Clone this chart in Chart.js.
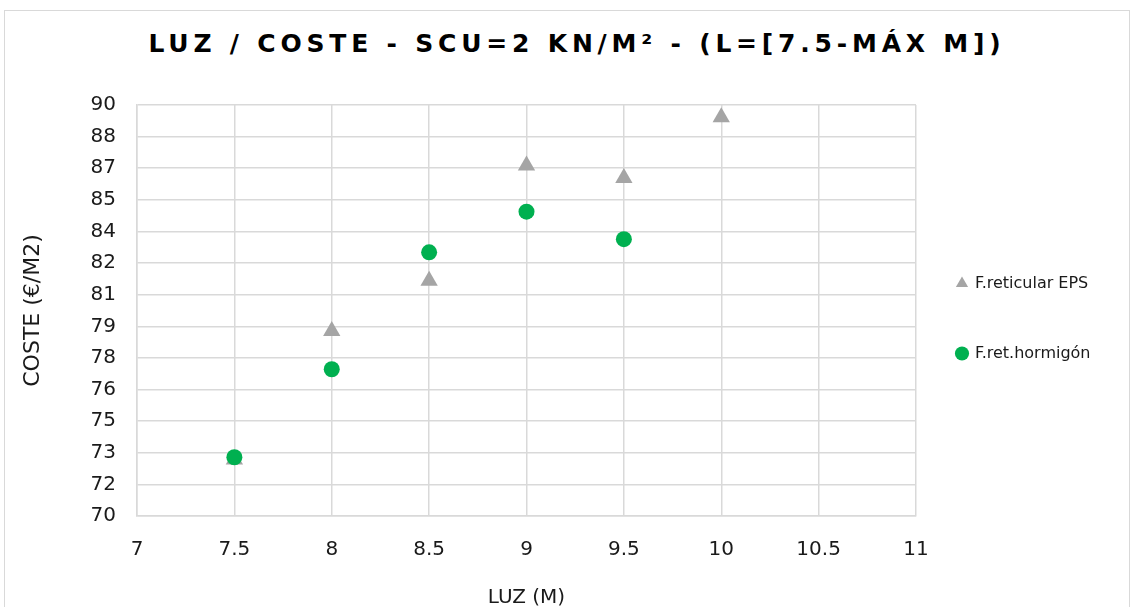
<!DOCTYPE html>
<html lang="es">
<head>
<meta charset="utf-8">
<title>Luz / Coste</title>
<script src="https://cdn.jsdelivr.net/npm/chart.js@4.4.1/dist/chart.umd.min.js"></script>
<style>
  html, body { margin: 0; padding: 0; background: #fff; }
  body { width: 1134px; height: 607px; overflow: hidden; position: relative; font-family: "DejaVu Sans", sans-serif; }
  #marco { position: absolute; left: 4px; top: 10px; width: 1124px; height: 640px; border: 1px solid #d9d9d9; }
  #titulo { position: absolute; left: 10px; top: 29px; width: 1134px; text-align: center;
            font-weight: bold; font-size: 25px; letter-spacing: 4.8px; color: #000; line-height: 30px; }
  #lienzo { position: absolute; left: 0; top: 0; }
</style>
</head>
<body>
<div id="marco"></div>
<div id="titulo">LUZ / COSTE - SCU=2 KN/M² - (L=[7.5-MÁX M])</div>
<canvas id="lienzo" width="1134" height="607"></canvas>
<script>
// datos
const luzEPS = [7.5, 8, 8.5, 9, 9.5, 10];
const costeEPS = [72.75, 79.0, 81.45, 87.05, 86.45, 89.4];
const luzHormigon = [7.5, 8, 8.5, 9, 9.5];
const costeHormigon = [72.86, 77.14, 82.83, 84.81, 83.47];

const etiquetasX = ["7", "7.5", "8", "8.5", "9", "9.5", "10", "10.5", "11"];
const etiquetasY = ["70", "72", "73", "75", "76", "78", "79", "81", "82", "84", "85", "87", "88", "90"];

const colorRejilla = "#d9d9d9";
const colorTexto = "#1a1a1a";
const fuente = "'DejaVu Sans', sans-serif";

const puntos = (xs, ys) => xs.map((x, i) => ({ x: x, y: ys[i] }));

// la leyenda de Excel queda un poco mas a la izquierda y mas abajo
const ajusteLeyenda = {
  id: "ajusteLeyenda",
  afterLayout(chart) {
    const ley = chart.legend;
    ley.left -= 13;
    ley.right = chart.width;
    ley.width = ley.right - ley.left;
    ley.top += 8;
    ley.bottom += 8;
  }
};

new Chart(document.getElementById("lienzo"), {
  type: "scatter",
  data: {
    datasets: [
      {
        label: "F.reticular EPS",
        data: puntos(luzEPS, costeEPS),
        pointStyle: "triangle",
        pointRadius: 10,
        pointHoverRadius: 10,
        backgroundColor: "#a5a5a5",
        borderColor: "#a5a5a5",
        borderWidth: 0,
        order: 1
      },
      {
        label: "F.ret.hormigón",
        data: puntos(luzHormigon, costeHormigon),
        pointStyle: "circle",
        pointRadius: 8,
        pointHoverRadius: 8,
        backgroundColor: "#00b050",
        borderColor: "#00b050",
        borderWidth: 0,
        order: 0
      }
    ]
  },
  options: {
    responsive: false,
    animation: false,
    layout: { padding: { top: 105, left: 0, right: 38, bottom: 0 } },
    plugins: {
      title: { display: false },
      tooltip: { enabled: false },
      legend: {
        position: "right",
        align: "center",
        fullSize: false,
        maxWidth: 180,
        labels: {
          usePointStyle: true,
          boxWidth: 10,
          boxHeight: 10,
          padding: 54,
          color: colorTexto,
          font: { family: fuente, size: 16 },
          sort: (a, b) => a.datasetIndex - b.datasetIndex
        }
      }
    },
    scales: {
      x: {
        type: "linear",
        min: 7,
        max: 11,
        afterFit: (s) => { s.height = 91; },
        ticks: {
          stepSize: 0.5,
          padding: 22,
          color: colorTexto,
          font: { family: fuente, size: 20 },
          maxRotation: 0,
          callback: (v, i) => etiquetasX[i]
        },
        grid: { color: colorRejilla, lineWidth: 1.5, drawTicks: false },
        border: { color: colorRejilla, width: 1.5 },
        title: {
          display: true,
          text: "LUZ (M)",
          color: colorTexto,
          font: { family: fuente, size: 20 },
          padding: { top: 0, bottom: -3 }
        }
      },
      y: {
        type: "linear",
        min: 70,
        max: 90,
        afterFit: (s) => { s.width = 137; },
        ticks: {
          count: etiquetasY.length,
          padding: 21,
          color: colorTexto,
          font: { family: fuente, size: 20 },
          callback: (v, i) => etiquetasY[i]
        },
        grid: { color: colorRejilla, lineWidth: 1.5, drawTicks: false },
        border: { color: colorRejilla, width: 1.5 },
        title: {
          display: true,
          text: "COSTE (€/M2)",
          color: colorTexto,
          font: { family: fuente, size: 22 },
          padding: { top: 20, bottom: 0 }
        }
      }
    }
  },
  plugins: [ajusteLeyenda]
});
</script>
</body>
</html>
